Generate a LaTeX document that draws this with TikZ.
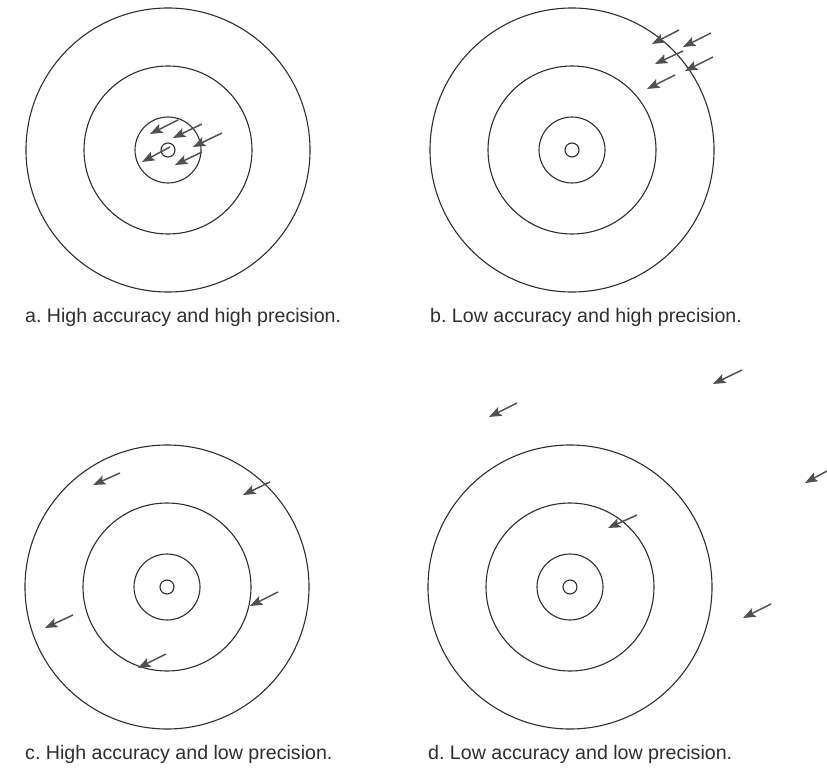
\documentclass[tikz,border=0pt]{standalone}
\usepackage{fontspec}
\setmainfont{Liberation Sans}
\usetikzlibrary{arrows.meta}
\definecolor{ink}{HTML}{2E2E2E}
\definecolor{shaft}{HTML}{505050}
\frenchspacing

\begin{document}
\begin{tikzpicture}[
  x=1pt, y=-1pt,
  ring/.style={draw=ink, circle, line width=1.1pt, inner sep=0pt},
  shot/.style={draw=shaft, line width=1.5pt, -{Stealth[length=12.5pt, width=9.5pt, inset=2.5pt]}},
  caption/.style={anchor=base west, inner sep=0pt, font=\fontsize{19.6}{22}\selectfont, text=ink}
]
  \useasboundingbox (0,0) rectangle (827,778);

  % Targets
  \foreach \t/\cx/\cy in {a/168/150, b/572/150, c/167/587, d/570/587} {
    \node[ring, minimum size=284pt] (\t-outer) at (\cx,\cy) {};
    \node[ring, minimum size=168pt] (\t-mid) at (\cx,\cy) {};
    \node[ring, minimum size=66pt] (\t-inner) at (\cx,\cy) {};
    \node[ring, minimum size=14pt] (\t-bull) at (\cx,\cy) {};
  }

  % Arrows (tail -> tip)
  \foreach \n/\sx/\sy/\ex/\ey in {
      a1/178/120/150/134, a2/202/124/173/138, a3/222/133/193/147,
      a4/170/147/142/162, a5/202/152/175/165,
      b1/679/30/652/44, b2/711/33/683/47, b3/683/51/655/64,
      b4/713/57/685/71, b5/675/75/647/89,
      c1/120/473/93/485, c2/270/482/243/495, c3/278/592/250/606,
      c4/73/615/45/628, c5/166/654/138/668,
      d1/517/403/489/417, d2/742/370/713/384, d3/637/515/608/528,
      d4/771/604/743/618, d5/827/471/805/483} {
    \coordinate (\n-tail) at (\sx,\sy);
    \coordinate (\n-tip) at (\ex,\ey);
    \draw[shot] (\n-tail) -- (\n-tip);
  }

  % Captions
  \node[caption] (cap-a) at (25,322) {a. High accuracy and high precision.};
  \node[caption] (cap-b) at (430,322) {b. Low accuracy and high precision.};
  \node[caption] (cap-c) at (25,759) {c. High accuracy and low precision.};
  \node[caption] (cap-d) at (428,759) {d. Low accuracy and low precision.};
\end{tikzpicture}
\end{document}
